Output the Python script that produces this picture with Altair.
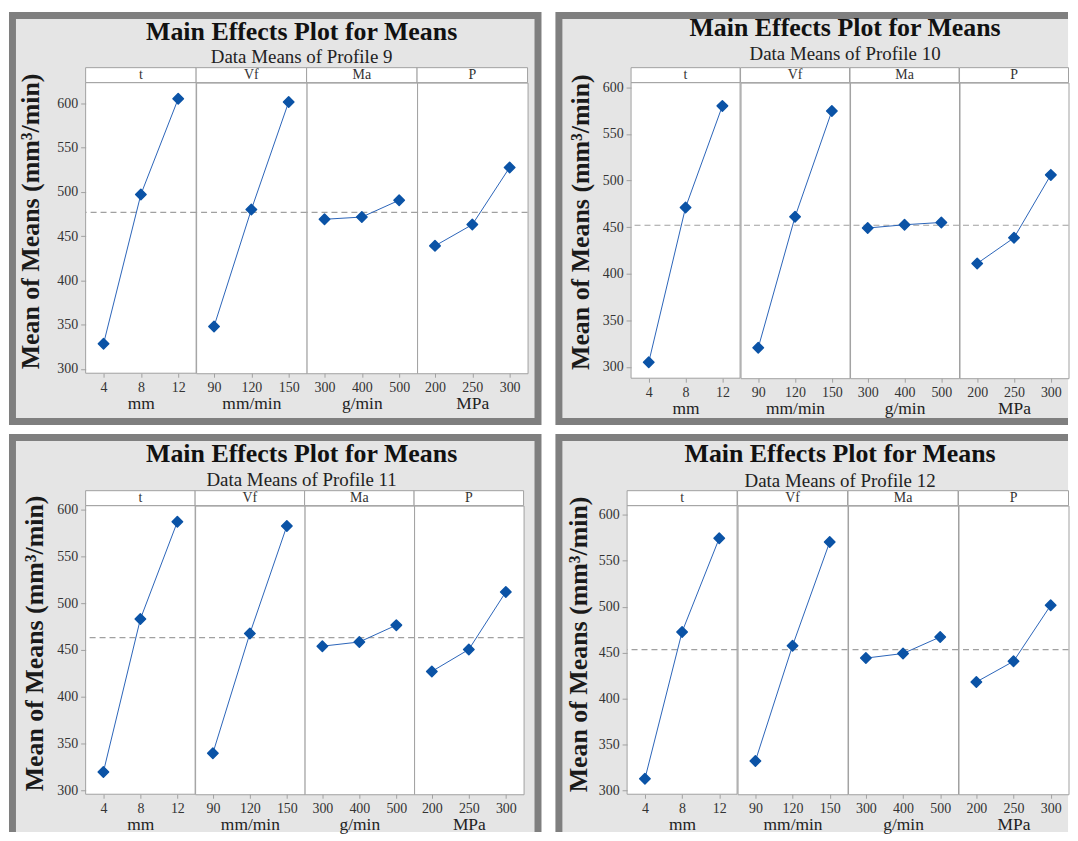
import altair as alt
import pandas as pd

# ---------------- data ----------------
factors = ["t", "Vf", "Ma", "P"]
units = ["mm", "mm/min", "g/min", "MPa"]
levels_t = ["4", "8", "12"]
levels_vf = ["90", "120", "150"]
levels_ma = ["300", "400", "500"]
levels_p = ["200", "250", "300"]
profile_names = ["Profile 9", "Profile 10", "Profile 11", "Profile 12"]

p9_t = [328.5, 497, 605]
p9_vf = [348, 480, 601.5]
p9_ma = [469, 471.5, 490.5]
p9_p = [439, 463, 527.5]

p10_t = [305, 471, 580]
p10_vf = [320.5, 461, 574.5]
p10_ma = [449, 452.5, 455]
p10_p = [411, 438.5, 506]

p11_t = [319.5, 483, 587]
p11_vf = [339.5, 467.5, 582.5]
p11_ma = [454, 458.5, 476.5]
p11_p = [427, 450.5, 512]

p12_t = [312.5, 472.5, 574.5]
p12_vf = [332, 457.5, 570.5]
p12_ma = [444, 449, 467]
p12_p = [418, 440.5, 501.5]

y_ticks = [300, 350, 400, 450, 500, 550, 600]

# ---------------- style / layout ----------------
FONT = "Liberation Serif"
FRAME_DARK = "#7f7f7f"
FRAME_LIGHT = "#e5e5e5"
GRID_GRAY = "#a0a0a0"
LINE_BLUE = "#2a64b8"
PT_BLUE = "#0b53a6"
BORDER = 7

layouts = [
    dict(w=111, h=292, dom=[295.2, 623.3], frame=(-77, 458, -71, 344), right=True, bottom=True,
         title=(217, -42.5), sub=(217, -19.5), ytitle=(-55, 139)),
    dict(w=109.5, h=297, dom=[287.9, 605.0], frame=(-76, 439, -71, 344), right=False, bottom=True,
         title=(215, -46.5), sub=(215, -23), ytitle=(-51, 139.7)),
    dict(w=110, h=290, dom=[295.7, 604.3], frame=(-77, 458, -72, 328), right=True, bottom=False,
         title=(217, -43.5), sub=(217, -20), ytitle=(-51, 138)),
    dict(w=110.5, h=290, dom=[295.7, 610.1], frame=(-72, 443, -72, 328), right=False, bottom=False,
         title=(214, -43.5), sub=(214, -19), ytitle=(-49, 139)),
]

profiles = [
    [p9_t, p9_vf, p9_ma, p9_p],
    [p10_t, p10_vf, p10_ma, p10_p],
    [p11_t, p11_vf, p11_ma, p11_p],
    [p12_t, p12_vf, p12_ma, p12_p],
]
all_levels = [levels_t, levels_vf, levels_ma, levels_p]

one = pd.DataFrame({"k": [0]})


def box(x0, x1, y0, y1, fill, stroke=None):
    kw = dict(fill=fill)
    if stroke:
        kw.update(stroke=stroke, strokeWidth=1)
    else:
        kw.update(strokeWidth=0)
    return alt.Chart(one).mark_rect(**kw).encode(
        x=alt.value(x0), x2=alt.value(x1), y=alt.value(y0), y2=alt.value(y1)
    )


def label(x, y, txt, size, weight="normal", color="#222", baseline="alphabetic"):
    return alt.Chart(one).mark_text(
        font=FONT, fontSize=size, fontWeight=weight, color=color,
        align="center", baseline=baseline
    ).encode(x=alt.value(x), y=alt.value(y), text=alt.value(txt))


def sub_chart(pi, fi):
    lay = layouts[pi]
    w, h = lay["w"], lay["h"]
    levels = all_levels[fi]
    values = profiles[pi][fi]
    df = pd.DataFrame({"level": levels, "value": values})
    panel_df = pd.DataFrame({"value": [v for vals in profiles[pi] for v in vals]})
    first = fi == 0

    xenc = alt.X(
        "level:O", sort=levels,
        scale=alt.Scale(type="point", padding=0.48),
        axis=alt.Axis(
            title=units[fi], labelAngle=0, labelFont=FONT, labelFontSize=14, labelColor="#333",
            labelPadding=3, tickSize=4, tickColor=GRID_GRAY, domain=False, grid=False,
            titleFont=FONT, titleFontSize=17.5, titleFontWeight="normal", titleColor="#222",
            titlePadding=0, zindex=1,
        ),
    )
    yscale = alt.Scale(domain=lay["dom"], nice=False, zero=False)
    if first:
        yaxis = alt.Axis(
            values=y_ticks, format="d", title="Mean of Means (mm³/min)",
            labelFont=FONT, labelFontSize=14, labelColor="#333", labelPadding=3,
            tickSize=5, tickColor=GRID_GRAY, domain=False, grid=False,
            titleFont=FONT, titleFontSize=26, titleFontWeight="bold", titleColor="#1a1a1a",
            titleAngle=270, titleAlign="center", titleBaseline="middle",
            titleX=lay["ytitle"][0], titleY=lay["ytitle"][1], zindex=1,
        )
    else:
        yaxis = None

    layers = []
    if first:
        fx0, fx1, fy0, fy1 = lay["frame"]
        layers.append(box(fx0, fx1, fy0, fy1, FRAME_DARK))
        layers.append(box(fx0 + BORDER, fx1 - BORDER if lay["right"] else fx1,
                          fy0 + BORDER, fy1 - BORDER if lay["bottom"] else fy1, FRAME_LIGHT))
        layers.append(box(0, w, 0, h, "white", GRID_GRAY))
        layers.append(label(lay["title"][0], lay["title"][1], "Main Effects Plot for Means", 26,
                            weight="bold", color="#111"))
        layers.append(label(lay["sub"][0], lay["sub"][1], "Data Means of " + profile_names[pi], 19,
                            color="#222"))
    layers.append(box(0, w, -15, 0, "white", GRID_GRAY))
    layers.append(label(w / 2, -7.5, factors[fi], 14, color="#333", baseline="middle"))

    rule = alt.Chart(panel_df).mark_rule(color=GRID_GRAY, strokeWidth=1.2, strokeDash=[6, 4]).encode(
        y=alt.Y("mean(value):Q", scale=yscale, axis=yaxis)
    )
    line = alt.Chart(df).mark_line(color=LINE_BLUE, strokeWidth=1).encode(
        x=xenc, y=alt.Y("value:Q", scale=yscale, axis=yaxis)
    )
    pts = alt.Chart(df).mark_point(
        shape="diamond", filled=True, fill=PT_BLUE, stroke=PT_BLUE, strokeWidth=1.5,
        strokeJoin="round", size=110, opacity=1
    ).encode(x=xenc, y=alt.Y("value:Q", scale=yscale, axis=yaxis))

    return alt.layer(*layers, rule, line, pts).properties(width=w, height=h)


def panel(pi):
    return alt.hconcat(*[sub_chart(pi, fi) for fi in range(4)], spacing=0, bounds="flush").resolve_scale(
        x="independent", y="independent"
    )


row1 = alt.hconcat(panel(0), panel(1), spacing=12).resolve_scale(x="independent", y="independent")
row2 = alt.hconcat(panel(2), panel(3), spacing=12).resolve_scale(x="independent", y="independent")

chart = (
    alt.vconcat(row1, row2, spacing=7)
    .resolve_scale(x="independent", y="independent")
    .properties(padding={"left": 0, "top": 1, "right": 0, "bottom": 0})
    .configure(background="white", font=FONT)
    .configure_view(stroke=GRID_GRAY, strokeWidth=1, fill="white")
)

chart.save("out.html", embed_options={"renderer": "svg", "actions": False})
